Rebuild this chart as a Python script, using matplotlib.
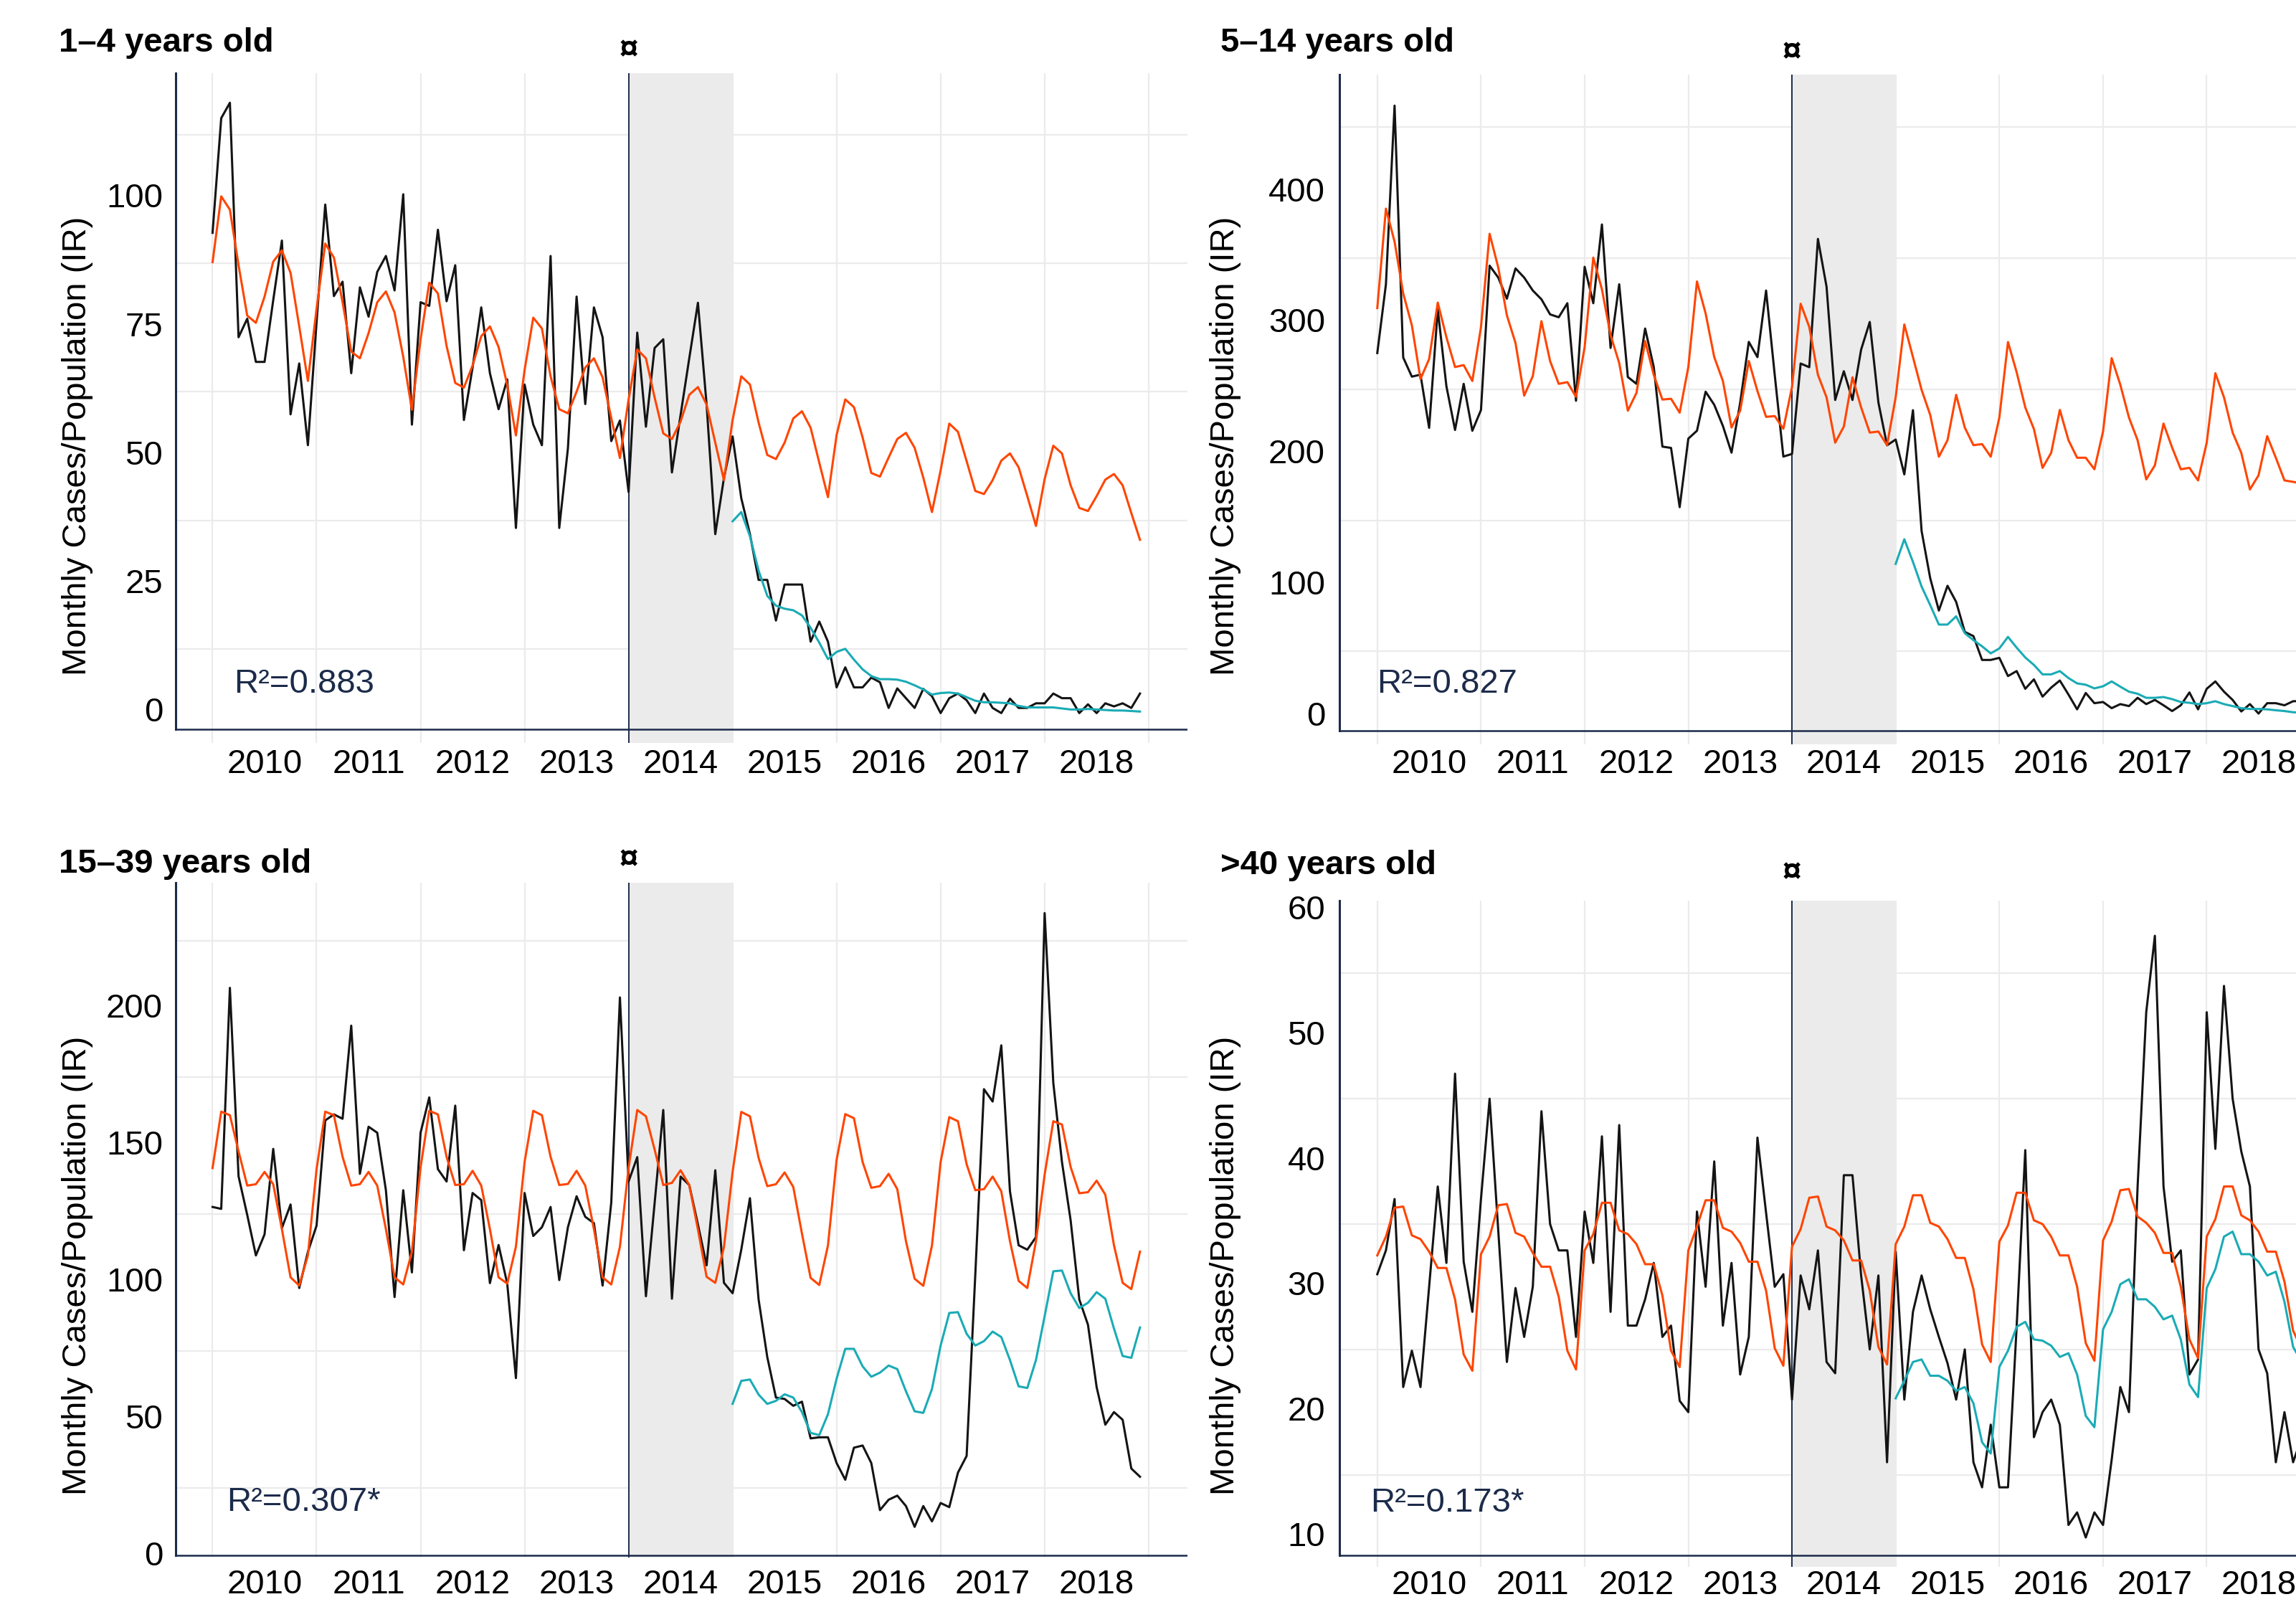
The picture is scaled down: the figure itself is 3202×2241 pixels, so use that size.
import matplotlib
matplotlib.use("Agg")
import matplotlib.pyplot as plt
import numpy as np

plt.rcParams['font.family'] = ['Liberation Sans', 'DejaVu Sans']

# ---------------- data (monthly, Jan 2010 .. Dec 2018) ----------------
start_year = 2010
n_months = 108
pred_start = 60          # counterfactual series starts Jan 2015 (month index)
year_ticks = [2010, 2011, 2012, 2013, 2014, 2015, 2016, 2017, 2018]

titles = ["1\u20134 years old", "5\u201314 years old", "15\u201339 years old", ">40 years old"]
r2_labels = ["R\u00b2=0.883", "R\u00b2=0.827", "R\u00b2=0.307*", "R\u00b2=0.173*"]

obs_1_4 = [93.4, 115.7, 118.7, 73.1, 76.7, 68.3, 68.3, 80.3, 91.9, 58.1, 68.0, 52.1,
           76.0, 98.9, 81.1, 83.9, 66.1, 82.8, 77.1, 85.8, 88.9, 82.2, 100.9, 56.1,
           79.9, 79.2, 94.0, 80.1, 87.1, 57.0, 67.2, 78.9, 66.1, 59.1, 64.9, 36.0,
           63.9, 56.1, 52.1, 88.9, 36.0, 51.5, 81.0, 60.1, 78.9, 73.1, 52.9, 56.9,
           43.0, 74.0, 55.7, 71.0, 72.7, 46.8, 58.0, 69.0, 79.8, 60.0, 34.8, 45.7,
           53.8, 41.8, 34.8, 25.9, 25.9, 18.0, 25.0, 25.0, 25.0, 13.9, 17.8, 13.9,
           5.0, 8.9, 5.0, 5.0, 6.9, 6.0, 1.0, 4.8, 2.9, 1.0, 4.7, 3.3,
           0.0, 2.9, 3.8, 2.5, 0.0, 3.8, 1.0, 0.0, 2.8, 1.0, 1.0, 1.9,
           1.9, 3.8, 2.9, 2.9, 0.0, 1.7, 0.0, 1.9, 1.3, 1.9, 1.0, 3.8]
fit_1_4 = [87.7, 100.5, 97.9, 87.1, 77.3, 75.9, 81.0, 87.8, 90.0, 85.6, 75.2, 64.6,
           78.6, 91.3, 88.6, 79.9, 70.3, 69.0, 73.9, 79.9, 82.0, 77.9, 69.3, 59.0,
           72.7, 83.7, 81.6, 71.4, 64.2, 63.3, 67.6, 73.3, 75.2, 71.2, 63.8, 54.0,
           66.7, 76.9, 74.8, 65.5, 59.1, 58.3, 62.5, 67.2, 69.0, 65.3, 57.4, 49.6,
           61.0, 70.7, 69.0, 61.4, 54.4, 53.3, 56.7, 61.9, 63.4, 60.0, 52.6, 45.3,
           57.0, 65.5, 63.9, 56.5, 50.2, 49.4, 52.6, 57.3, 58.7, 55.5, 48.7, 42.0,
           54.1, 61.0, 59.5, 53.6, 46.7, 46.0, 49.7, 53.3, 54.5, 51.6, 45.8, 39.1,
           47.2, 56.3, 54.7, 49.0, 43.2, 42.6, 45.3, 49.1, 50.5, 47.8, 42.2, 36.4,
           45.5, 52.0, 50.5, 44.3, 39.9, 39.3, 42.2, 45.4, 46.5, 44.3, 38.9, 33.7]
pred_1_4 = [37.3, 39.1, 34.4, 27.7, 22.8, 20.9, 20.3, 20.0, 19.0, 16.6, 13.7, 10.5,
            11.9, 12.5, 10.4, 8.5, 7.2, 6.6, 6.6, 6.5, 6.1, 5.4, 4.6, 3.6,
            3.9, 4.0, 3.8, 3.1, 2.4, 2.1, 2.1, 2.0, 1.9, 1.4, 1.1, 1.1,
            1.1, 1.1, 0.9, 0.7, 0.7, 0.8, 0.7, 0.6, 0.5, 0.5, 0.4, 0.3]

obs_5_14 = [277.6, 330.0, 466.4, 274.2, 259.6, 261.1, 220.5, 310.9, 252.3, 218.9, 254.1, 218.3,
            234.1, 344.3, 335.2, 319.1, 342.2, 335.2, 325.3, 318.6, 307.1, 304.9, 315.6, 241.2,
            343.4, 315.6, 375.7, 281.5, 330.1, 259.3, 254.1, 296.3, 266.9, 206.2, 205.2, 160.0,
            212.3, 218.3, 248.1, 238.1, 222.0, 201.6, 239.6, 286.1, 274.5, 325.3, 261.0, 198.6,
            200.6, 269.6, 266.8, 364.7, 328.2, 241.8, 263.7, 241.8, 280.2, 301.3, 239.9, 207.2,
            211.6, 185.0, 234.0, 141.8, 105.7, 81.1, 100.0, 87.7, 64.8, 61.6, 43.4, 43.4,
            45.0, 31.1, 34.9, 21.4, 28.6, 15.4, 22.3, 27.7, 17.0, 5.7, 18.2, 10.4,
            11.3, 6.6, 9.7, 8.2, 14.5, 9.7, 12.9, 8.8, 4.4, 8.8, 18.6, 5.7,
            21.4, 27.0, 19.2, 12.9, 4.1, 9.7, 2.5, 10.4, 10.4, 8.8, 11.9, 12.0]
fit_5_14 = [311.9, 387.8, 362.6, 323.1, 298.8, 257.8, 273.0, 316.1, 289.7, 266.9, 268.4, 256.3,
            297.3, 368.6, 342.9, 306.4, 285.2, 245.1, 260.0, 301.9, 271.5, 254.1, 255.4, 244.2,
            282.1, 350.4, 326.2, 291.3, 270.0, 233.6, 247.2, 286.7, 260.9, 242.1, 242.7, 232.1,
            266.9, 332.2, 307.9, 274.5, 256.3, 220.8, 233.6, 271.5, 248.6, 228.9, 229.5, 219.8,
            251.7, 315.2, 297.5, 261.0, 243.8, 209.2, 221.5, 259.1, 236.1, 216.9, 217.7, 207.3,
            243.8, 299.4, 274.5, 249.5, 230.3, 198.5, 211.1, 245.7, 220.7, 207.3, 208.1, 198.5,
            228.4, 286.0, 263.0, 236.1, 219.6, 190.0, 201.5, 234.2, 211.1, 197.7, 197.7, 188.9,
            217.7, 273.7, 253.4, 228.4, 211.1, 181.2, 191.9, 223.8, 205.4, 188.9, 190.0, 180.4,
            209.2, 262.2, 243.8, 216.9, 201.5, 173.5, 184.3, 214.2, 197.7, 180.4, 179.3, 178.0]
pred_5_14 = [116.7, 135.5, 118.2, 99.4, 85.2, 70.4, 70.4, 76.7, 63.8, 58.5, 53.8, 48.4,
             52.2, 61.0, 52.8, 45.3, 39.6, 32.4, 32.4, 34.9, 29.6, 25.5, 24.5, 21.7,
             23.3, 27.0, 23.0, 19.2, 17.6, 14.5, 14.5, 15.1, 13.5, 11.3, 10.7, 9.7,
             10.4, 11.9, 9.7, 8.2, 6.6, 6.0, 6.0, 5.7, 5.0, 4.4, 3.5, 3.2]

obs_15_39 = [127.7, 127.0, 207.7, 138.9, 124.8, 110.0, 117.7, 148.9, 120.0, 128.6, 98.1, 111.3,
             120.9, 159.3, 161.5, 159.9, 193.9, 139.8, 157.0, 154.8, 133.8, 94.8, 133.8, 103.8,
             154.8, 167.7, 141.5, 137.0, 164.7, 111.9, 132.8, 130.2, 99.9, 113.8, 99.7, 65.2,
             132.8, 117.1, 120.3, 127.7, 101.0, 120.3, 131.6, 124.1, 121.8, 99.0, 129.3, 204.2,
             137.0, 145.9, 95.1, 129.0, 163.1, 94.2, 138.8, 135.7, 121.3, 106.4, 141.1, 100.0,
             96.2, 112.1, 130.9, 93.9, 72.9, 58.1, 57.6, 55.1, 56.6, 43.2, 43.6, 43.6,
             34.2, 28.1, 39.8, 40.6, 34.2, 17.0, 20.8, 22.3, 18.5, 10.9, 18.5, 12.9,
             19.6, 18.1, 30.7, 36.8, 103.0, 170.7, 166.2, 186.7, 133.4, 113.7, 112.1, 116.7,
             235.0, 173.0, 144.1, 122.8, 93.9, 84.7, 61.9, 48.2, 52.8, 50.0, 32.2, 29.2]
fit_15_39 = [141.9, 162.5, 161.2, 148.0, 135.5, 136.0, 140.5, 136.0, 119.6, 102.0, 99.0, 110.0,
             141.5, 162.5, 161.2, 146.0, 135.5, 136.0, 140.5, 135.5, 119.6, 102.0, 99.4, 111.3,
             142.2, 162.8, 161.5, 146.0, 135.7, 136.0, 140.9, 135.5, 119.6, 102.0, 99.7, 113.2,
             144.1, 162.8, 161.2, 146.0, 135.7, 136.1, 140.9, 135.5, 119.6, 102.0, 99.4, 113.2,
             142.0, 163.1, 160.8, 148.7, 135.7, 136.5, 141.1, 135.7, 119.5, 102.2, 100.0, 113.0,
             140.5, 162.4, 160.8, 145.6, 135.3, 136.0, 140.3, 135.0, 118.0, 101.8, 99.2, 113.6,
             144.9, 161.6, 160.1, 144.1, 134.7, 135.3, 139.8, 134.2, 115.2, 101.5, 98.9, 113.6,
             144.1, 160.5, 159.0, 143.3, 133.8, 134.2, 138.8, 133.4, 115.2, 100.7, 98.1, 115.2,
             139.5, 159.0, 157.8, 142.3, 132.7, 133.1, 137.3, 132.2, 113.7, 100.0, 97.7, 111.4]
pred_15_39 = [55.8, 64.2, 64.7, 59.2, 55.8, 56.9, 59.3, 58.1, 52.8, 45.2, 44.4, 52.0,
              65.0, 75.9, 75.9, 69.5, 65.7, 67.2, 69.8, 68.5, 60.4, 53.1, 52.5, 61.2,
              77.1, 89.0, 89.3, 81.4, 77.1, 78.7, 82.2, 80.2, 71.8, 62.2, 61.6, 71.8,
              87.8, 104.2, 104.5, 96.2, 90.8, 92.7, 96.6, 94.2, 83.3, 73.3, 72.6, 83.7]

obs_40 = [31.0, 32.9, 37.0, 22.0, 24.9, 22.0, 30.0, 38.0, 31.9, 47.0, 32.0, 28.0,
          37.0, 45.0, 34.5, 24.0, 29.9, 26.0, 30.0, 44.0, 35.0, 32.9, 32.9, 26.0,
          36.0, 31.9, 42.0, 28.0, 42.9, 26.9, 26.9, 29.0, 31.9, 26.0, 26.9, 20.9,
          20.0, 36.0, 30.0, 40.0, 26.9, 31.9, 23.0, 26.0, 41.9, 35.9, 30.0, 31.0,
          21.0, 30.9, 28.2, 32.9, 24.0, 23.1, 38.9, 38.9, 30.9, 25.0, 30.9, 16.0,
          32.8, 21.0, 28.0, 30.9, 28.2, 26.0, 23.9, 21.0, 25.0, 16.0, 14.0, 19.0,
          14.0, 14.0, 26.8, 40.9, 18.0, 20.0, 21.0, 19.0, 11.0, 12.0, 10.0, 12.0,
          11.0, 16.2, 22.0, 20.0, 38.0, 51.9, 58.0, 38.0, 32.0, 32.9, 23.0, 24.2,
          51.9, 41.0, 54.0, 45.0, 40.8, 38.0, 25.0, 23.1, 16.0, 20.0, 16.0, 18.0]
fit_40 = [32.5, 34.0, 36.3, 36.4, 34.1, 33.8, 32.8, 31.5, 31.5, 29.0, 24.6, 23.3,
          32.6, 34.0, 36.5, 36.6, 34.3, 34.0, 32.7, 31.6, 31.6, 29.2, 24.9, 23.4,
          32.9, 34.2, 36.7, 36.7, 34.5, 34.2, 33.4, 31.8, 31.8, 29.3, 24.9, 23.6,
          32.9, 34.8, 36.9, 36.9, 34.7, 34.4, 33.5, 32.0, 32.0, 29.7, 25.1, 23.7,
          33.2, 34.6, 37.1, 37.2, 34.8, 34.5, 33.7, 32.1, 32.1, 29.7, 25.2, 23.8,
          33.4, 34.8, 37.3, 37.3, 35.1, 34.8, 33.8, 32.3, 32.3, 29.8, 25.4, 24.0,
          33.6, 34.9, 37.5, 37.5, 35.3, 35.0, 34.0, 32.5, 32.5, 30.0, 25.5, 24.1,
          33.7, 35.2, 37.7, 37.8, 35.6, 35.1, 34.3, 32.7, 32.7, 30.0, 25.8, 24.3,
          34.0, 35.4, 38.0, 38.0, 35.7, 35.3, 34.4, 32.8, 32.8, 30.4, 26.5, 25.0]
pred_40 = [21.1, 22.5, 24.0, 24.2, 22.9, 22.9, 22.5, 21.7, 22.0, 20.7, 17.6, 16.7,
           23.6, 24.9, 26.8, 27.2, 25.8, 25.7, 25.3, 24.4, 24.7, 23.0, 19.7, 18.8,
           26.6, 28.0, 30.2, 30.6, 29.0, 29.0, 28.4, 27.4, 27.7, 25.8, 22.2, 21.2,
           29.9, 31.4, 34.0, 34.4, 32.6, 32.6, 32.0, 30.9, 31.2, 28.8, 25.2, 24.0]

y_ticks = [[0, 25, 50, 75, 100], [0, 100, 200, 300, 400],
           [0, 50, 100, 150, 200], [10, 20, 30, 40, 50, 60]]
y_grid = [[12.5, 37.5, 62.5, 87.5, 112.5], [50, 150, 250, 350, 450],
          [25, 75, 125, 175, 225], [15, 25, 35, 45, 55]]

# ---------------- styling / layout (pixels of the 3202x2241 canvas) ----------------
W, H = 3202, 2241
BLACK = "#141414"
ORANGE = "#FF4500"
TEAL = "#1AABB5"
NAVY = "#1C2B4A"
GRID = "#EBEBEB"
SHADE = "#EBEBEB"
FS = 34

panels = [
    dict(l=244.5, r=1656.0, t=101.7, b=1036.0, xlim=(2009.642, 2019.373), ylim=(-5.8, 124.5),
         hline=-3.1, xpad=30, ypad=17.5, title=(82, 60), sym=70, ylab=(108, 622), r2=(326, 954)),
    dict(l=1867.7, r=3274.7, t=103.8, b=1038.0, xlim=(2009.633, 2019.364), ylim=(-21.0, 490.2),
         hline=-10.4, xpad=28, ypad=19.7, title=(1702, 60), sym=73, ylab=(1709, 622), r2=(1920, 954)),
    dict(l=244.5, r=1656.0, t=1231.3, b=2172.0, xlim=(2009.642, 2019.373), ylim=(-0.3, 246.0),
         hline=0.4, xpad=38, ypad=17.5, title=(82, 1205), sym=1199, ylab=(108, 1765), r2=(316, 2095)),
    dict(l=1867.7, r=3274.7, t=1256.0, b=2184.6, xlim=(2009.633, 2019.364), ylim=(7.68, 60.8),
         hline=8.6, xpad=26, ypad=19.7, title=(1702, 1207), sym=1217, ylab=(1709, 1765), r2=(1911, 2096)),
]

observed = [obs_1_4, obs_5_14, obs_15_39, obs_40]
fitted = [fit_1_4, fit_5_14, fit_15_39, fit_40]
predicted = [pred_1_4, pred_5_14, pred_15_39, pred_40]

fig = plt.figure(figsize=(W / 100, H / 100), dpi=100)
fig.patch.set_facecolor("white")

x_all = start_year + np.arange(n_months) / 12.0
x_pred = x_all[pred_start:]
px2pt = 72 / 100.0

for i, p in enumerate(panels):
    ax = fig.add_axes([p['l'] / W, 1 - p['b'] / H, (p['r'] - p['l']) / W, (p['b'] - p['t']) / H])
    ax.set_xlim(*p['xlim'])
    ax.set_ylim(*p['ylim'])
    for s in ax.spines.values():
        s.set_visible(False)
    ax.set_facecolor("white")

    # ticks / grid
    ax.set_xticks([y + 0.5 for y in year_ticks])
    ax.set_xticklabels([str(y) for y in year_ticks])
    ax.set_xticks(list(range(2010, 2020)), minor=True)
    ax.set_yticks(y_ticks[i])
    ax.set_yticklabels([str(v) for v in y_ticks[i]])
    ax.set_yticks(y_grid[i], minor=True)
    ax.tick_params(which='both', length=0)
    ax.tick_params(axis='x', which='major', labelsize=FS, pad=p['xpad'] * px2pt, colors='black')
    ax.tick_params(axis='y', which='major', labelsize=FS, pad=p['ypad'] * px2pt, colors='black')
    for lbl in ax.get_xticklabels():
        lbl.set_va('center')
    for lbl in ax.get_yticklabels():
        lbl.set_va('center')
    ax.grid(which='minor', color=GRID, linewidth=1.6, zorder=0)
    ax.grid(which='major', visible=False)
    ax.set_axisbelow(True)

    # intervention period
    ax.axvspan(2014, 2015, color=SHADE, zorder=1, linewidth=0)
    ax.axvline(2014, color=NAVY, linewidth=1.4, zorder=2)

    # series
    ax.plot(x_all, observed[i], color=BLACK, linewidth=2.2, zorder=3)
    ax.plot(x_all, fitted[i], color=ORANGE, linewidth=2.2, zorder=4)
    ax.plot(x_pred, predicted[i], color=TEAL, linewidth=2.2, zorder=5)

    # axis lines
    ax.axhline(p['hline'], color=NAVY, linewidth=1.8, zorder=6)
    ylo, yhi = p['ylim']
    ax.plot([p['xlim'][0], p['xlim'][0]], [p['hline'], yhi], color=NAVY, linewidth=2.2,
            zorder=6, clip_on=False)

    # texts
    fig.text(p['title'][0] / W, 1 - p['title'][1] / H, titles[i], fontsize=FS,
             fontweight='bold', ha='left', va='center')
    ax.text(2014, 1 - (p['sym'] - p['t']) / (p['b'] - p['t']), "\u00a4",
            transform=ax.get_xaxis_transform(), fontsize=34, fontweight='bold',
            ha='center', va='center', clip_on=False)
    fig.text(p['ylab'][0] / W, 1 - p['ylab'][1] / H, "Monthly Cases/Population (IR)",
             rotation=90, fontsize=FS, ha='center', va='center')
    fig.text(p['r2'][0] / W, 1 - p['r2'][1] / H, r2_labels[i], fontsize=FS,
             color=NAVY, ha='left', va='center')

fig.savefig("out.png", dpi=100, facecolor="white")
